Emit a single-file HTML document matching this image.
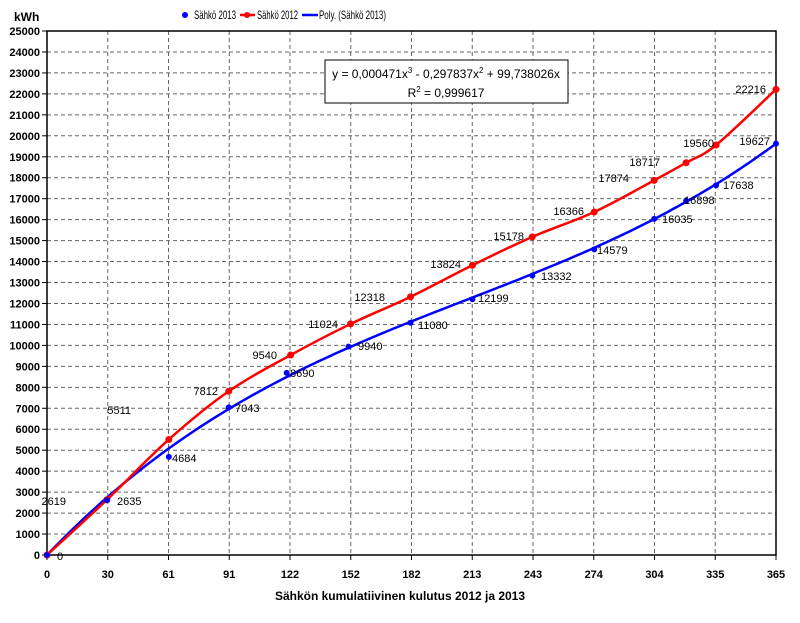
<!DOCTYPE html>
<html><head><meta charset="utf-8"><style>
body{margin:0;background:#fff;}
svg text{font-family:"Liberation Sans",Arial,sans-serif;}
</style></head><body>
<svg id="s" width="800" height="618" xmlns="http://www.w3.org/2000/svg"></svg>
<script>
const s=document.getElementById('s');
const X=d=>47+d*729/365, Y=v=>555-v*524/25000;
let h='';
for(let i=1;i<=25;i++){const y=Y(i*1000);h+=`<line x1="47" x2="776" y1="${y}" y2="${y}" stroke="#666" stroke-dasharray="4,3" stroke-width="1"/>`;}
const xt=[0,30,61,91,122,152,182,213,243,274,304,335,365];
xt.forEach((t,i)=>{const x=47+i*729/12;if(i>0&&i<12)h+=`<line x1="${x}" x2="${x}" y1="31" y2="555" stroke="#666" stroke-dasharray="4,3"/>`;
h+=`<line x1="${x}" x2="${x}" y1="555" y2="560" stroke="#000"/><text x="${x}" y="578" font-size="11" font-weight="bold" text-anchor="middle">${t}</text>`;});
for(let i=0;i<=25;i++){const y=Y(i*1000);h+=`<line x1="42" x2="47" y1="${y}" y2="${y}" stroke="#000"/><text x="40" y="${y+4}" font-size="11" font-weight="bold" text-anchor="end">${i*1000}</text>`;}
h+=`<rect x="47" y="31" width="729" height="524" fill="none" stroke="#000" stroke-width="1.5"/>`;
let p='';for(let x=0;x<=365;x+=2){const v=0.000471*x*x*x-0.297837*x*x+99.738026*x;p+=(x?'L':'M')+X(x).toFixed(1)+','+Y(v).toFixed(1);}
h+=`<path d="${p}" fill="none" stroke="#0000ff" stroke-width="2.5"/>`;
const R=[[0,0],[30,2635],[61,5511],[91,7812],[122,9540],[152,11024],[182,12318],[213,13824],[243,15178],[274,16366],[304,17874],[320,18717],[335,19560],[365,22216]];
const pts=R.map(a=>[X(a[0]),Y(a[1])]);
let d='M'+pts[0];
for(let i=0;i<pts.length-1;i++){const p0=pts[i-1]||pts[i],p1=pts[i],p2=pts[i+1],p3=pts[i+2]||p2;
d+=`C${p1[0]+(p2[0]-p0[0])/6},${p1[1]+(p2[1]-p0[1])/6} ${p2[0]-(p3[0]-p1[0])/6},${p2[1]-(p3[1]-p1[1])/6} ${p2[0]},${p2[1]}`;}
h+=`<path d="${d}" fill="none" stroke="#ff0000" stroke-width="2.5"/>`;
pts.forEach(q=>h+=`<circle cx="${q[0]}" cy="${q[1]}" r="3.5" fill="#ff0000"/>`);
const B=[[0,0],[30,2619],[61,4684],[91,7043],[120,8690],[151,9940],[182,11080],[213,12199],[243,13332],[274,14579],[304,16035],[320,16898],[335,17638],[365,19627]];
B.forEach(a=>h+=`<circle cx="${X(a[0])}" cy="${Y(a[1])}" r="3" fill="#0000ff"/>`);
const RL=[[131,414,'5511'],[218,395,'7812'],[277,359,'9540'],[338,328,'11024'],[385,301,'12318'],[461,268,'13824'],[524,240,'15178'],[584,215,'16366'],[629,182,'17874'],[660,166,'18717'],[714,147,'19560'],[766,93,'22216'],[66,505,'2619']];
RL.forEach(l=>h+=`<text x="${l[0]}" y="${l[1]}" font-size="11" text-anchor="end">${l[2]}</text>`);
const BL=[[57,560,'0'],[117,505,'2635'],[172,462,'4684'],[235,412,'7043'],[290,377,'8690'],[358,350,'9940'],[418,329,'11080'],[478,302,'12199'],[541,280,'13332'],[597,254,'14579'],[662,223,'16035'],[684,204,'16898'],[723,189,'17638'],[770,145,'19627']];
BL.forEach((l,i)=>h+=`<text x="${l[0]}" y="${l[1]}" font-size="11" text-anchor="${i==13?'end':'start'}">${l[2]}</text>`);
h+=`<rect x="325" y="60" width="243" height="43" fill="#fff" stroke="#000"/>
<text x="446" y="78" font-size="12" text-anchor="middle">y = 0,000471x<tspan font-size="8" dy="-5">3</tspan><tspan dy="5"> - 0,297837x</tspan><tspan font-size="8" dy="-5">2</tspan><tspan dy="5"> + 99,738026x</tspan></text>
<text x="446" y="97" font-size="12" text-anchor="middle">R<tspan font-size="8" dy="-5">2</tspan><tspan dy="5"> = 0,999617</tspan></text>`;
h+=`<circle cx="185" cy="15" r="3" fill="#0000ff"/><text x="194" y="19" font-size="12" textLength="42" lengthAdjust="spacingAndGlyphs">Sähkö 2013</text>
<line x1="240" x2="255" y1="15" y2="15" stroke="#ff0000" stroke-width="2.5"/><circle cx="247" cy="15" r="3" fill="#ff0000"/><text x="257" y="19" font-size="12" textLength="41" lengthAdjust="spacingAndGlyphs">Sähkö 2012</text>
<line x1="302" x2="318" y1="15" y2="15" stroke="#0000ff" stroke-width="2.5"/><text x="319" y="19" font-size="12" textLength="67" lengthAdjust="spacingAndGlyphs">Poly. (Sähkö 2013)</text>
<text x="14" y="21" font-size="12" font-weight="bold">kWh</text>
<text x="400" y="600" font-size="12" font-weight="bold" text-anchor="middle">Sähkön kumulatiivinen kulutus 2012 ja 2013</text>`;
s.innerHTML=h;
</script>
</body></html>
